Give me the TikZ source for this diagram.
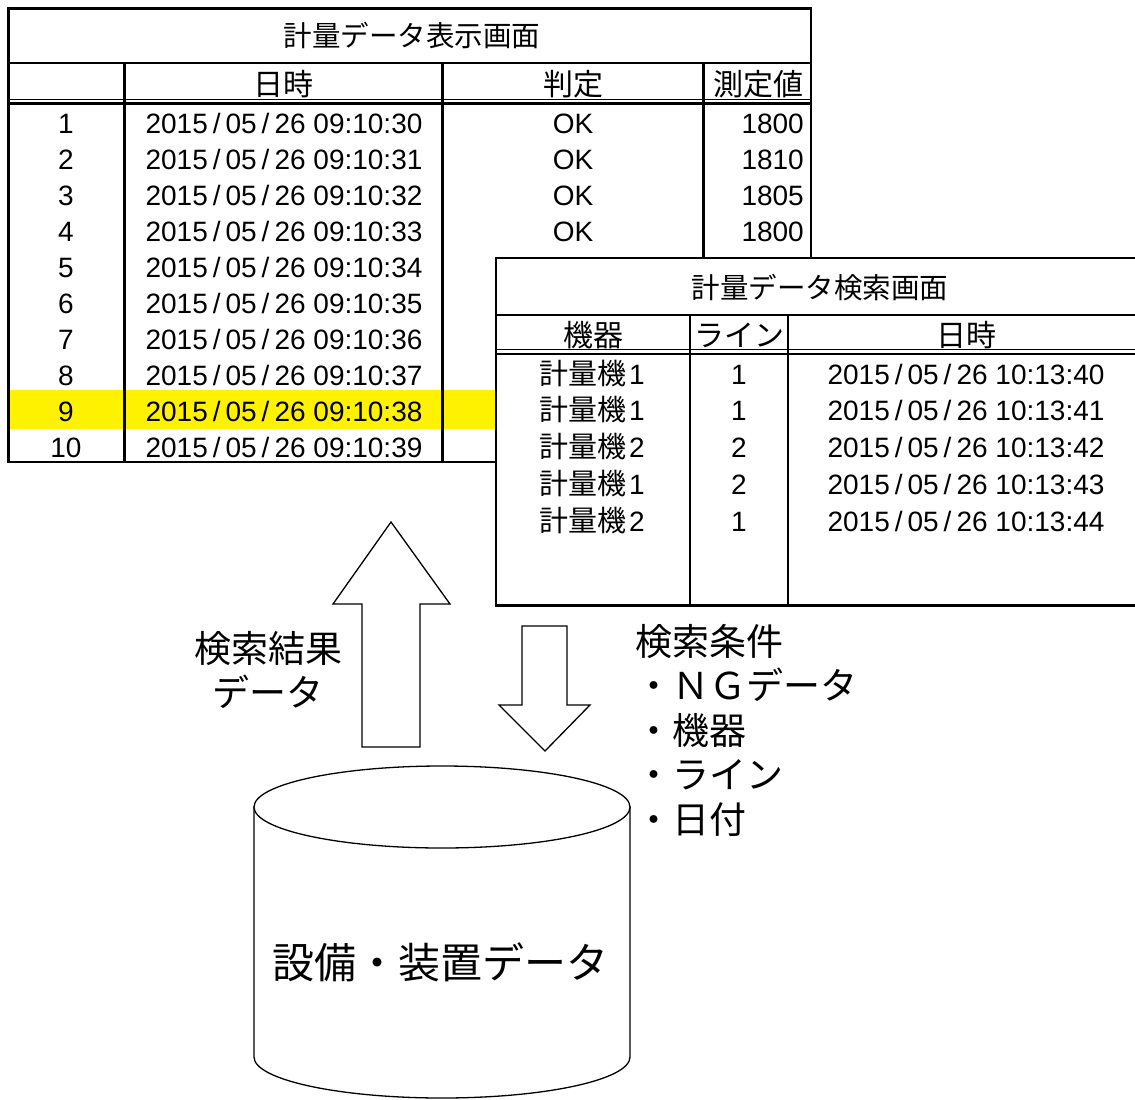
\documentclass[tikz,border=0pt]{standalone}
\usepackage{fontspec}
\setmainfont{Liberation Sans}
\newfontfamily\jp{Noto Sans CJK JP}
\newcommand\slsp{\hspace{5pt}/\hspace{5pt}}
\begin{document}
\begin{tikzpicture}[x=1pt,y=-1pt,
  cell/.style={font=\fontsize{28}{28}\selectfont, inner sep=0pt, anchor=base},
  cellr/.style={cell, anchor=base east},
  ttl/.style={font=\fontsize{28.5}{30}\selectfont\jp, inner sep=0pt, anchor=base},
  hdr/.style={font=\fontsize{30}{30}\selectfont\jp, inner sep=0pt, anchor=base},
  lbl/.style={font=\fontsize{37}{37}\selectfont\jp, inner sep=0pt},
  bord/.style={line width=2.5pt, line cap=rect},
  sepline/.style={line width=1.8pt},
  dblthin/.style={line width=1.3pt},
  dblthick/.style={line width=2.2pt},
  outl/.style={line width=1.3pt, draw=black, fill=white, line join=miter}
]
\fill[white] (0,0) rectangle (1135,1100);
\useasboundingbox (0,0) rectangle (1135,1100);
\clip (0,0) rectangle (1135,1100);

% ---------- table 1 ----------
\fill[yellow] (8.5,390) rectangle (811,428.5);
\draw[bord] (8.5,8.5) rectangle (811,462);
\draw[sepline] (8.5,63) -- (811,63);
\draw[dblthin] (8.5,99.5) -- (811,99.5);
\draw[dblthick] (8.5,103.5) -- (811,103.5);
\foreach \x in {124.5,442.5,703.5} \draw[bord] (\x,63) -- (\x,462);

\node[ttl] (t1title) at (412,46) {計量データ表示画面};
\node[hdr] (t1h1) at (283,95) {日時};
\node[hdr] (t1h2) at (573,95) {判定};
\node[hdr] (t1h3) at (758,95) {測定値};

\foreach \i in {0,...,9} {
  \pgfmathsetmacro\yy{133+\i*36.1}
  \pgfmathtruncatemacro\nn{\i+1}
  \node[cell] (no\i) at (66,\yy) {\nn};
  \node[cell] (dt\i) at (284,\yy) {2015\slsp05\slsp26 09:10:3\i};
}
\foreach \i/\v in {0/1800,1/1810,2/1805,3/1800} {
  \pgfmathsetmacro\yy{133+\i*36.1}
  \node[cell] (ok\i) at (573,\yy) {OK};
  \node[cellr] (val\i) at (804,\yy) {\v};
}

% ---------- table 2 ----------
\fill[white] (496,258) rectangle (1150,605.5);
\draw[bord] (496,258) rectangle (1150,605.5);
\draw[bord] (496,315) -- (1150,315);
\draw[dblthin] (496,349.3) -- (1150,349.3);
\draw[dblthick] (496,354.3) -- (1150,354.3);
\foreach \x in {690,788} \draw[bord] (\x,315) -- (\x,605.5);

\node[ttl] (t2title) at (820,298) {計量データ検索画面};
\node[hdr] (t2h1) at (593,346) {機器};
\node[hdr] (t2h2) at (739,346) {ライン};
\node[hdr] (t2h3) at (966,346) {日時};

\foreach \i/\m/\l in {0/1/1,1/1/1,2/2/2,3/1/2,4/2/1} {
  \pgfmathsetmacro\yy{384+\i*36.75}
  \node[cell] (mc\i) at (592,\yy) {{\fontsize{29}{29}\selectfont\jp 計量機}\hspace{3pt}\m};
  \node[cell] (ln\i) at (739,\yy) {\l};
  \node[cell] (sd\i) at (966,\yy) {2015\slsp05\slsp26 10:13:4\i};
}

% ---------- arrows ----------
\draw[outl] (362,747) -- (362,604) -- (333,604) -- (391,522) -- (450,604) -- (420,604) -- (420,747) -- cycle;
\draw[outl] (522,626) -- (567,626) -- (567,705) -- (590,705) -- (545,751) -- (499,705) -- (522,705) -- cycle;

\node[lbl, anchor=base] (res1) at (268,662) {検索結果};
\node[lbl, anchor=base] (res2) at (268,706) {データ};

\node[lbl, anchor=base west] (c0) at (635,655) {検索条件};
\node[lbl, anchor=base west] (c1) at (635,699.5) {・ＮＧデータ};
\node[lbl, anchor=base west] (c2) at (635,744) {・機器};
\node[lbl, anchor=base west] (c3) at (635,788.5) {・ライン};
\node[lbl, anchor=base west] (c4) at (635,833) {・日付};

% ---------- cylinder ----------
\draw[outl] (254,807) -- (254,1057)
  .. controls (254,1079.6) and (338.2,1098) .. (442,1098)
  .. controls (545.8,1098) and (630,1079.6) .. (630,1057)
  -- (630,807) -- cycle;
\draw[outl] (442,807) ellipse [x radius=188pt, y radius=41pt];
\node[font=\fontsize{42}{42}\selectfont\jp, inner sep=0pt, anchor=base] (db) at (440,978) {設備・装置データ};
\end{tikzpicture}
\end{document}
